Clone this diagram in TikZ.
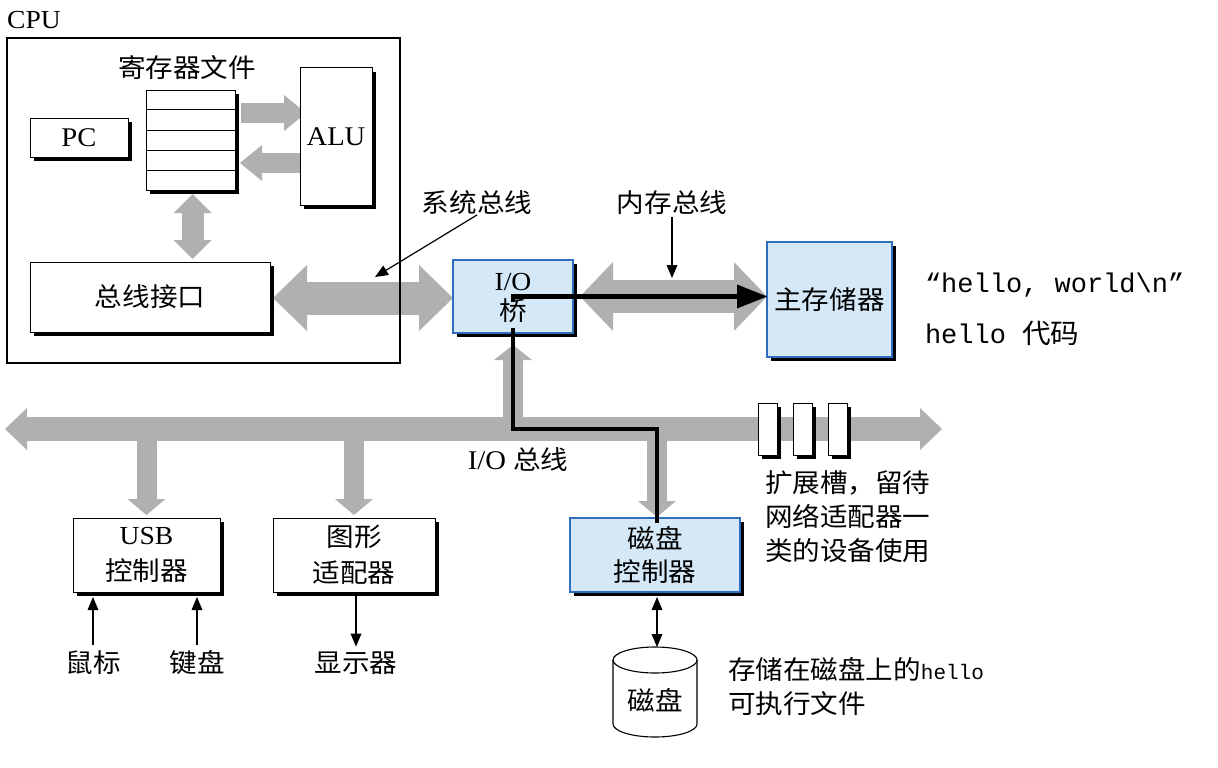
\documentclass[tikz,border=0pt]{standalone}
\usepackage{fontspec}
\setmainfont{Liberation Serif}[FakeStretch=1.06]
\setmonofont{Liberation Mono}
\newfontfamily\cjk{Noto Sans CJK SC}[FakeStretch=1.06]
\usetikzlibrary{arrows.meta,shadows,calc}
\pgfdeclarelayer{background}
\pgfsetlayers{background,main}
\definecolor{busgray}{HTML}{B0B0B0}
\definecolor{boxblue}{HTML}{D4E8F7}
\definecolor{boxborder}{HTML}{2F6DBE}
\begin{document}
\begin{tikzpicture}[x=1pt,y=-1pt,
  every node/.style={inner sep=0pt, outer sep=0pt, font=\fontsize{27}{32}\selectfont},
  zh/.style={font=\cjk\fontsize{26}{34}\selectfont},
  tt/.style={font=\ttfamily\fontsize{27}{34}\selectfont},
  box/.style={draw=black, line width=1pt, fill=white, align=center,
     drop shadow={shadow xshift=4pt, shadow yshift=-4pt, fill=black, opacity=1}},
  bluebox/.style={box, draw=boxborder, line width=1.6pt, fill=boxblue},
  slotbox/.style={box, minimum width=19pt, minimum height=52pt},
  fat/.style n args={3}{draw=busgray, line width=#1, >={Triangle[length=#3,width=#2,line width=0pt]}},
  ptr/.style={line width=1.2pt, >={Triangle[length=13pt,width=11pt,line width=0pt]}},
  dataflow/.style={line width=4.5pt, >={Triangle[length=30pt,width=24pt,line width=0pt]}},
]
\useasboundingbox (0,0) rectangle (1218,768);

% ---------- CPU ----------
\node[draw, line width=2.2pt, minimum width=393pt, minimum height=325pt] (cpu) at (203.5,200.5) {};
\node[font=\fontsize{26}{30}\selectfont] (cpulbl) at (34,20) {CPU};
\node[zh] (reglbl) at (187,68) {寄存器文件};
\node[box, minimum width=89pt, minimum height=100pt] (regfile) at (190.5,140) {};
\foreach \f in {0.19,0.4,0.6,0.8}
  \draw[line width=1pt] ($(regfile.north west)!\f!(regfile.south west)$) -- ($(regfile.north east)!\f!(regfile.south east)$);
\node[box, minimum width=98pt, minimum height=39pt] (pc) at (79,137.5) {PC};
\node[box, minimum width=72pt, minimum height=137pt] (alu) at (336,136.5) {ALU};
\node[box, zh, minimum width=240pt, minimum height=70pt] (ifc) at (150,297) {总线接口};

% ---------- bridge & memory ----------
\node[bluebox, minimum width=120pt, minimum height=73pt] (bridge) at (513,296.5) {};
\node[bluebox, zh, minimum width=125pt, minimum height=115pt] (mem) at (829.5,299.5) {主存储器};

% ---------- I/O devices ----------
\coordinate (busL) at (5,429);
\coordinate (busR) at (942,429);
\node[box, zh, minimum width=147pt, minimum height=74pt, font=\cjk\fontsize{26}{36}\selectfont] (usb) at (146.5,555) {{\rmfamily USB}\\控制器};
\node[box, zh, minimum width=162pt, minimum height=74pt, font=\cjk\fontsize{26}{36}\selectfont] (gfx) at (354,555) {图形\\适配器};
\node[bluebox, zh, minimum width=170pt, minimum height=74pt, font=\cjk\fontsize{26}{33}\selectfont] (dctl) at (655,555) {磁盘\\控制器};
\node[slotbox] (slot1) at (767.5,429) {};
\node[slotbox] (slot2) at (802.5,429) {};
\node[slotbox] (slot3) at (837.5,429) {};

\node[zh] (mouse) at (93,663) {鼠标};
\node[zh] (kbd) at (197,663) {键盘};
\node[zh] (disp) at (356,663) {显示器};

% disk cylinder
\node[zh] (disk) at (655,700) {磁盘};
\coordinate (disktop) at ($(disk)+(0,-53)$);
\draw[line width=1.1pt] ($(disk)+(-42,-40)$) -- ($(disk)+(-42,24)$)
   arc[start angle=180, end angle=0, x radius=42, y radius=13] -- ($(disk)+(42,-40)$);
\draw[line width=1.1pt] ($(disk)+(0,-40)$) ellipse[x radius=42, y radius=13];

% ---------- labels ----------
\node[zh] (syslbl) at (477,203) {系统总线};
\node[zh] (memlbl) at (672,203) {内存总线};
\node (iolbl) at (518,460) {I/O {\cjk\fontsize{26}{32}\selectfont 总线}};
\coordinate (syspt) at (375,277);
\coordinate (mempt) at (672,278);
\node[tt, anchor=west] (str) at (925,285) {“hello, world\textbackslash n”};
\node[tt, anchor=west] (code) at (925,333) {hello {\cjk 代码}};
\node[zh, anchor=west, align=left] (slotlbl) at (765,517) {扩展槽，留待\\网络适配器一\\类的设备使用};
\node[zh, anchor=west, align=left] (disklbl) at (728,687) {存储在磁盘上的{\ttfamily\fontsize{21}{33}\selectfont hello}\\可执行文件};

% ---------- gray buses (background) ----------
\begin{pgfonlayer}{background}
  \draw[fat={20pt}{36pt}{22pt}, ->] ([xshift=6pt,yshift=27pt]regfile.east) -- ([xshift=6pt,yshift=27pt]regfile.east -| alu.west);
  \draw[fat={20pt}{36pt}{22pt}, ->] ([yshift=-23pt]regfile.east -| alu.west) -- ([xshift=5pt,yshift=-23pt]regfile.east);
  \draw[fat={22pt}{38pt}{19pt}, <->] ($(regfile.south)+(2,4)$) -- ($(regfile.south |- ifc.north)+(2,-3)$);
  \draw[fat={33pt}{66pt}{34pt}, <->] ([xshift=3pt,yshift=-1pt]ifc.east) -- ([yshift=-1pt]ifc.east -| bridge.west);
  \draw[fat={33pt}{69pt}{33pt}, <->] ([xshift=7pt]bridge.east) -- (bridge.east -| mem.west);
  \draw[fat={24pt}{42pt}{22pt}, <->] (busL) -- (busR);
  \draw[fat={20pt}{38pt}{15pt}, ->] (bridge.south |- busL) -- ($(bridge.south)+(0,12)$);
  \draw[fat={20pt}{38pt}{16pt}, ->] (usb.north |- busL) -- ($(usb.north)+(0,-3)$);
  \draw[fat={20pt}{38pt}{16pt}, ->] (gfx.north |- busL) -- ($(gfx.north)+(0,-3)$);
  \draw[fat={20pt}{38pt}{16pt}, ->] ($(dctl.north |- busL)+(2,0)$) -- ($(dctl.north)+(2,-1)$);
\end{pgfonlayer}

% ---------- data path of hello ----------
\draw[dataflow, ->] ($(bridge.center)+(-2.25,0)$) -- (bridge.center -| mem.west);
\draw[dataflow] (bridge.center) -- ($(bridge.center)+(0,5)$);
\draw[dataflow, line join=miter] ($(bridge.south)+(0,-5)$) -- (bridge.center |- busL) -- ($(dctl.north |- busL)+(2,0)$) -- ($(dctl.north)+(2,5)$);
\node[align=center, font=\fontsize{26}{30}\selectfont] (bridgelbl) at ($(bridge.center)+(0,1)$) {I/O\\{\cjk 桥}};

% ---------- thin pointers ----------
\draw[ptr, ->] (syslbl.south) -- (syspt);
\draw[ptr, ->] ($(memlbl.south)+(0,2)$) -- (mempt);
\draw[ptr, ->] ($(mouse.north)+(0,-6)$) -- ($(mouse.north |- usb.south)+(0,5)$);
\draw[ptr, ->] ($(kbd.north)+(0,-6)$) -- ($(kbd.north |- usb.south)+(0,5)$);
\draw[ptr, ->] ($(disp.north |- gfx.south)+(0,4)$) -- ($(disp.north)+(0,-5)$);
\draw[ptr, <->] ($(dctl.south)+(2,5)$) -- ($(disktop)+(2,0)$);
\end{tikzpicture}
\end{document}
